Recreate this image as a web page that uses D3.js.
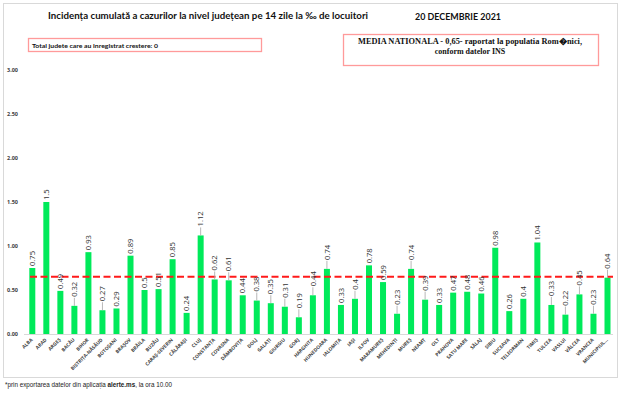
<!DOCTYPE html>
<html><head><meta charset="utf-8">
<script src="https://cdn.jsdelivr.net/npm/d3@7"></script>
<style>body{margin:0;background:#fff}svg{display:block}</style>
</head><body>
<svg id="c" width="624" height="394"></svg>
<script>
const categories = ["ALBA","ARAD","ARGEȘ","BACĂU","BIHOR","BISTRIȚA-NĂSĂUD","BOTOȘANI","BRAȘOV","BRĂILA","BUZĂU","CARAȘ-SEVERIN","CĂLĂRAȘI","CLUJ","CONSTANȚA","COVASNA","DÂMBOVIȚA","DOLJ","GALAȚI","GIURGIU","GORJ","HARGHITA","HUNEDOARA","IALOMIȚA","IAȘI","ILFOV","MARAMUREȘ","MEHEDINȚI","MUREȘ","NEAMȚ","OLT","PRAHOVA","SATU MARE","SĂLAJ","SIBIU","SUCEAVA","TELEORMAN","TIMIȘ","TULCEA","VASLUI","VÂLCEA","VRANCEA","MUNICIPIUL..."];
const values = [0.75,1.5,0.49,0.32,0.93,0.27,0.29,0.89,0.5,0.51,0.85,0.24,1.12,0.62,0.61,0.44,0.38,0.35,0.31,0.19,0.44,0.74,0.33,0.4,0.78,0.59,0.23,0.74,0.39,0.33,0.47,0.48,0.46,0.98,0.26,0.4,1.04,0.33,0.22,0.45,0.23,0.64];
const leaderCats = ["BACĂU","BISTRIȚA-NĂSĂUD","CLUJ","CONSTANȚA","COVASNA","DOLJ","GALAȚI","GIURGIU","GORJ","HARGHITA","HUNEDOARA","IAȘI","MEHEDINȚI","MUREȘ","NEAMȚ","TULCEA","VASLUI","VÂLCEA","VRANCEA","MUNICIPIUL..."];
const yTicks = [0,0.5,1,1.5,2,2.5,3];
const nationalMean = 0.65;
const titleText = "Incidența cumulată a cazurilor la nivel județean pe 14 zile la ‰ de locuitori";
const dateText = "20 DECEMBRIE 2021";
const boxLeftText = "Total judete care au inregistrat crestere: 0";
const boxRightLines = ["MEDIA NATIONALA - 0,65-  raportat la populatia Rom\uFFFDnici,","conform datelor INS"];

const svg = d3.select("#c");
const data = categories.map((c,i)=>({c, v: values[i]}));

// outer border
svg.append("rect").attr("x",3.5).attr("y",3.5).attr("width",614).attr("height",374)
  .attr("fill","none").attr("stroke","#d9d9d9").attr("stroke-width",1);

const x = d3.scalePoint().domain(categories).range([32.3, 607.5]);
const y = d3.scaleLinear().domain([0,3]).range([334,70]);
const bw = 6;

// title
svg.append("text").attr("x",48).attr("y",19).attr("font-family","Lato, sans-serif")
  .attr("font-weight","bold").attr("font-size",9.6).attr("fill","#111")
  .attr("textLength",320).attr("lengthAdjust","spacingAndGlyphs").text(titleText);
svg.append("text").attr("x",415).attr("y",20).attr("font-family","Lato, sans-serif")
  .attr("font-weight","bold").attr("font-size",10).attr("fill","#111")
  .attr("textLength",86).attr("lengthAdjust","spacingAndGlyphs").text(dateText);

// left box
svg.append("rect").attr("x",28.5).attr("y",38.5).attr("width",233).attr("height",13)
  .attr("fill","none").attr("stroke","#ff9a9a").attr("stroke-width",1.3);
svg.append("text").attr("x",32).attr("y",47.5).attr("font-family","Lato, sans-serif")
  .attr("font-weight","bold").attr("font-size",6.2).attr("fill","#111")
  .attr("textLength",126).attr("lengthAdjust","spacingAndGlyphs").text(boxLeftText);

// right box
svg.append("rect").attr("x",343.5).attr("y",34.5).attr("width",255).attr("height",31)
  .attr("fill","none").attr("stroke","#ff9a9a").attr("stroke-width",1.3);
svg.append("text").attr("x",470).attr("y",43.5).attr("text-anchor","middle")
  .attr("font-family","Liberation Serif, serif").attr("font-weight","bold").attr("font-size",8)
  .attr("fill","#111").attr("textLength",224).attr("lengthAdjust","spacingAndGlyphs").text(boxRightLines[0]);
svg.append("text").attr("x",470).attr("y",53.5).attr("text-anchor","middle")
  .attr("font-family","Liberation Serif, serif").attr("font-weight","bold").attr("font-size",8)
  .attr("fill","#111").text(boxRightLines[1]);

// y axis
const yAxis = svg.append("g").attr("transform","translate(18,0)")
  .call(d3.axisLeft(y).tickValues(yTicks).tickFormat(d3.format(".2f")).tickSize(0).tickPadding(0));
yAxis.select(".domain").remove();
yAxis.selectAll("text").attr("font-family","Open Sans, sans-serif").attr("font-size",5.5)
  .attr("font-weight","bold").attr("fill","#404040");

// bars
svg.append("g").selectAll("rect").data(data).join("rect")
  .attr("x", d=>x(d.c)-bw/2).attr("width",bw)
  .attr("y", d=>y(d.v)).attr("height", d=>y(0)-y(d.v))
  .attr("fill","#00ea5a");

// x axis line
svg.append("line").attr("x1",24).attr("x2",613).attr("y1",334.5).attr("y2",334.5)
  .attr("stroke","#d9d9d9").attr("stroke-width",1);

// x axis labels
const xAxis = svg.append("g").attr("transform","translate(0,336)")
  .call(d3.axisBottom(x).tickSize(0).tickPadding(0));
xAxis.select(".domain").remove();
xAxis.selectAll("text").attr("font-family","Open Sans, sans-serif").attr("font-size",4.8)
  .attr("font-weight","bold").attr("fill","#404040")
  .attr("text-anchor","end").attr("dy","0.35em")
  .attr("transform","translate(-1,3) rotate(-45)");

// mean line
svg.append("line").attr("x1",30).attr("x2",613).attr("y1",y(nationalMean)).attr("y2",y(nationalMean))
  .attr("stroke","#ff1a1a").attr("stroke-width",2).attr("stroke-dasharray","7,3.5");

// leader lines + value labels
const leadLen = 9;
const lab = svg.append("g");
data.forEach(d=>{
  const hasLead = leaderCats.includes(d.c);
  const top = y(d.v);
  const end = top - (hasLead ? leadLen : 2);
  if (hasLead) {
    lab.append("line").attr("x1",x(d.c)).attr("x2",x(d.c)).attr("y1",top).attr("y2",end+1)
      .attr("stroke","#a6a6a6").attr("stroke-width",0.8);
  }
  lab.append("text").attr("transform",`translate(${x(d.c)+2.7},${end}) rotate(-90)`)
    .attr("font-family","Open Sans, sans-serif").attr("font-size",7.6).attr("fill","#333")
    .text(String(d.v));
});

// footnote
const fn = svg.append("text").attr("x",5).attr("y",387).attr("font-family","Liberation Sans, Arial, sans-serif")
  .attr("font-size",6.3).attr("fill","#222");
fn.append("tspan").text("*prin exportarea datelor din aplicația ");
fn.append("tspan").attr("font-weight","bold").text("alerte.ms");
fn.append("tspan").text(", la ora 10.00");
</script>
</body></html>
